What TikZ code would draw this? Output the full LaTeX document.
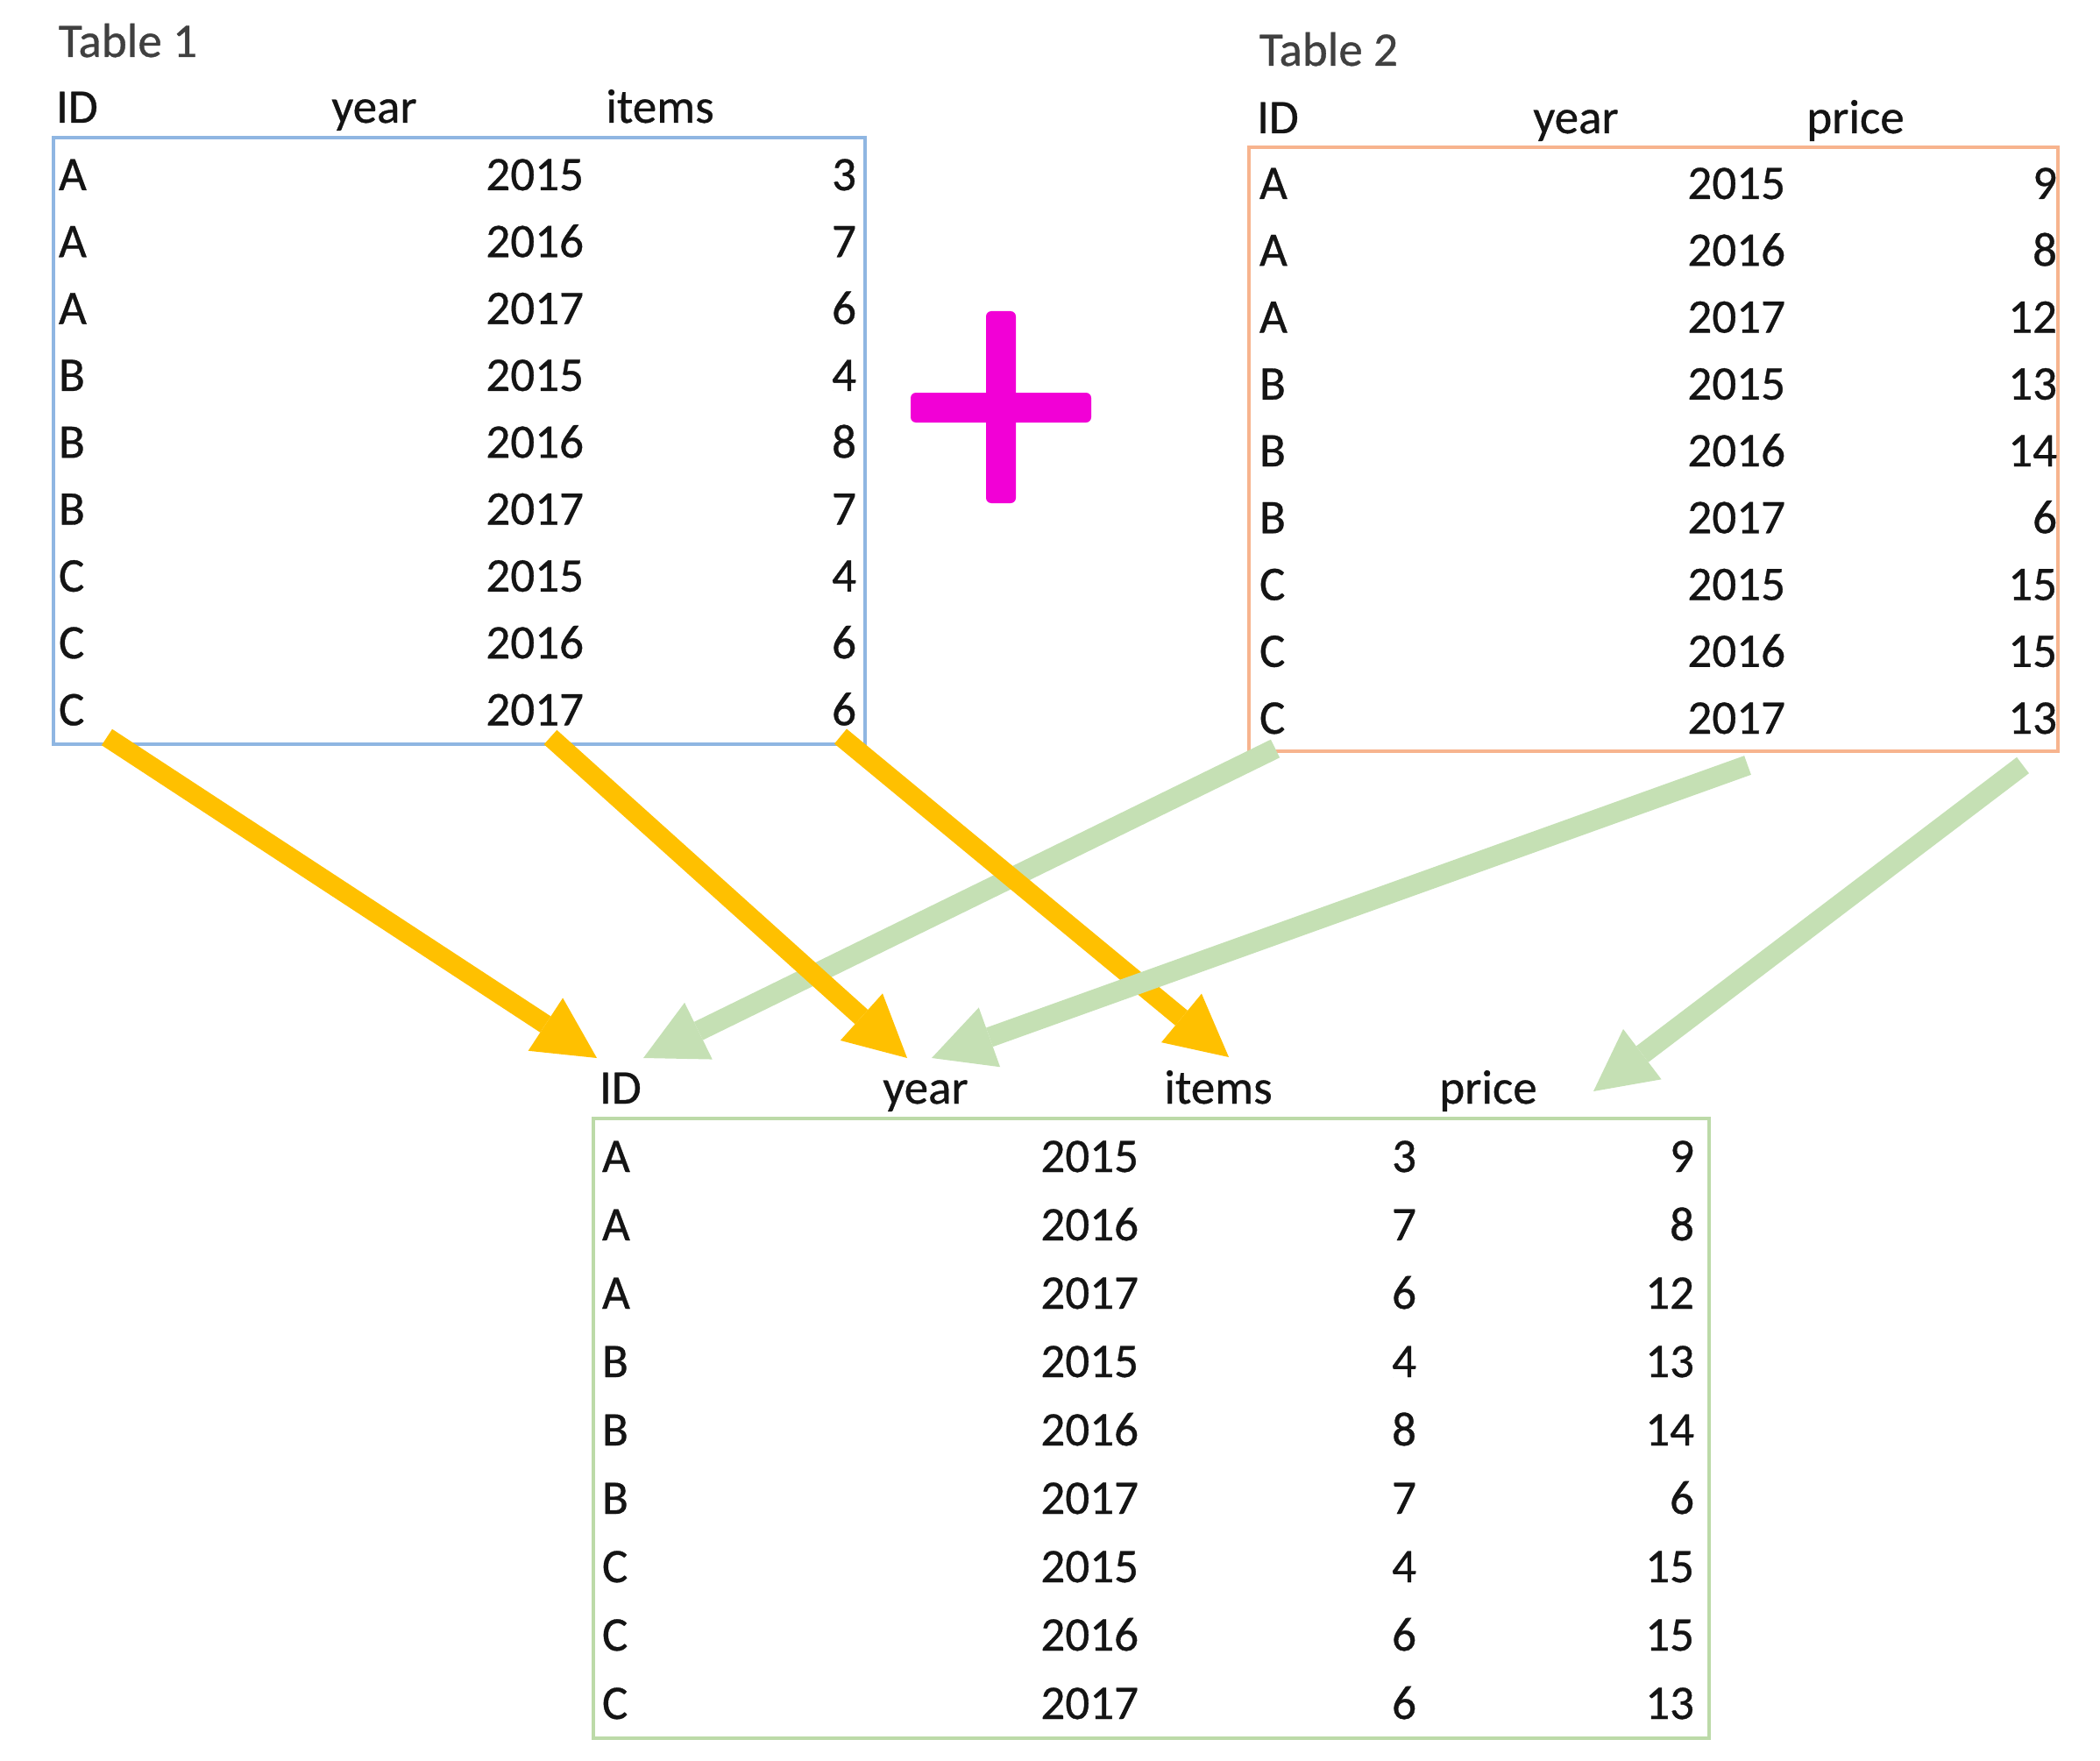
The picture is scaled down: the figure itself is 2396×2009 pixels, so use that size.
\documentclass[tikz,border=0pt]{standalone}
\usepackage{fontspec}
\setmainfont{Carlito}
\newfontfamily\tfont{Carlito}[FakeBold=0.6]
\usetikzlibrary{arrows.meta}
\definecolor{tblue}{RGB}{143,182,226}
\definecolor{torange}{RGB}{247,180,142}
\definecolor{tgreen}{RGB}{188,218,168}
\definecolor{arrY}{RGB}{255,192,0}
\definecolor{arrG}{RGB}{197,224,180}
\definecolor{plusM}{RGB}{242,0,214}
\definecolor{txtC}{RGB}{20,20,20}
\definecolor{ttlC}{RGB}{64,64,64}
\begin{document}
\begin{tikzpicture}[x=0.01cm,y=-0.01cm,
  txt/.style={inner sep=0pt, outer sep=0pt, font=\tfont\fontsize{15.65}{18}\selectfont, text=txtC},
  ttl/.style={txt, text=ttlC, anchor=base west},
  lft/.style={txt, anchor=base west},
  rgt/.style={txt, anchor=base east},
  ctr/.style={txt, anchor=base},
  tbox/.style={line width=0.04cm},
  yarrow/.style={draw=arrY, line width=0.22cm, line cap=butt,
    -{Triangle[length=0.7cm,width=0.72cm,line width=0pt]}},
  garrow/.style={draw=arrG, line width=0.23cm, line cap=butt,
    -{Triangle[length=0.7cm,width=0.72cm,line width=0pt]}}
]
\useasboundingbox (0,0) rectangle (2396,2009);

% ---------- Table 1 ----------
\draw[tbox, draw=tblue] (61,157) rectangle (987,849);
\node[ttl] (t1title) at (67,65) {Table 1};
\node[lft] (t1hid) at (64,140) {ID};
\node[ctr] (t1hyear) at (427,140) {year};
\node[ctr] (t1hitems) at (753,140) {items};
\foreach \va/\vb/\vc [count=\k from 0] in
  {A/2015/3, A/2016/7, A/2017/6, B/2015/4, B/2016/8, B/2017/7, C/2015/4, C/2016/6, C/2017/6} {
  \pgfmathsetmacro\yy{217+76.3*\k}
  \node[lft] (t1id\k) at (67,\yy) {\va};
  \node[rgt] (t1yr\k) at (666,\yy) {\vb};
  \node[rgt] (t1it\k) at (977,\yy) {\vc};
}

% ---------- Table 2 ----------
\draw[tbox, draw=torange] (1425,168) rectangle (2348,857);
\node[ttl] (t2title) at (1437,75) {Table 2};
\node[lft] (t2hid) at (1434,152) {ID};
\node[ctr] (t2hyear) at (1798,152) {year};
\node[ctr] (t2hprice) at (2117,152) {price};
\foreach \va/\vb/\vc [count=\k from 0] in
  {A/2015/9, A/2016/8, A/2017/12, B/2015/13, B/2016/14, B/2017/6, C/2015/15, C/2016/15, C/2017/13} {
  \pgfmathsetmacro\yy{227+76.25*\k}
  \node[lft] (t2id\k) at (1437,\yy) {\va};
  \node[rgt] (t2yr\k) at (2037,\yy) {\vb};
  \node[rgt] (t2pr\k) at (2347,\yy) {\vc};
}

% ---------- Result table ----------
\draw[tbox, draw=tgreen] (677,1276) rectangle (1950,1983);
\node[lft] (t3hid) at (684,1259) {ID};
\node[ctr] (t3hyear) at (1056,1259) {year};
\node[ctr] (t3hitems) at (1390,1259) {items};
\node[ctr] (t3hprice) at (1698,1259) {price};
\foreach \va/\vb/\vc/\vd [count=\k from 0] in
  {A/2015/3/9, A/2016/7/8, A/2017/6/12, B/2015/4/13, B/2016/8/14, B/2017/7/6, C/2015/4/15, C/2016/6/15, C/2017/6/13} {
  \pgfmathsetmacro\yy{1337+78*\k}
  \node[lft] (t3id\k) at (687,\yy) {\va};
  \node[rgt] (t3yr\k) at (1299,\yy) {\vb};
  \node[rgt] (t3it\k) at (1616,\yy) {\vc};
  \node[rgt] (t3pr\k) at (1933,\yy) {\vd};
}

% ---------- Plus sign ----------
\fill[plusM, rounded corners=0.06cm] (1125,355) rectangle (1159,574);
\fill[plusM, rounded corners=0.06cm] (1039,448) rectangle (1245,482);

% ---------- Arrow end points ----------
\coordinate (y1s) at (122,841);  \coordinate (y1e) at (681,1207);
\coordinate (y2s) at (628,841);  \coordinate (y2e) at (1035,1207);
\coordinate (y3s) at (959,840);  \coordinate (y3e) at (1402,1206);
\coordinate (g1s) at (1455,854); \coordinate (g1e) at (734,1207);
\coordinate (g2s) at (1994,873); \coordinate (g2e) at (1063,1207);
\coordinate (g3s) at (2308,873); \coordinate (g3e) at (1818,1245);

% ---------- Arrows ----------
\draw[garrow] (g1s) -- (g1e);
\draw[yarrow] (y1s) -- (y1e);
\draw[yarrow] (y2s) -- (y2e);
\draw[yarrow] (y3s) -- (y3e);
\draw[garrow] (g2s) -- (g2e);
\draw[garrow] (g3s) -- (g3e);
\end{tikzpicture}
\end{document}
